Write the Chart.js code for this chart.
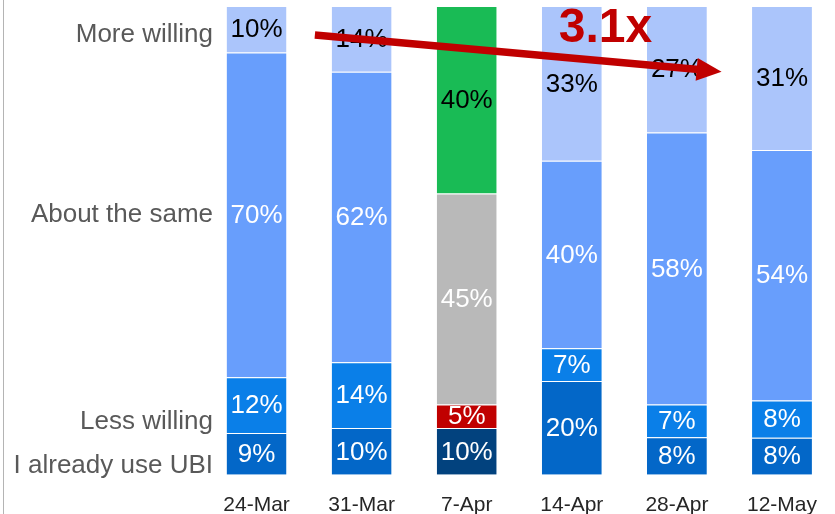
<!DOCTYPE html>
<html>
<head>
<meta charset="utf-8">
<script src="https://cdn.jsdelivr.net/npm/chart.js@4.4.1/dist/chart.umd.min.js"></script>
<style>
  html, body { margin: 0; padding: 0; background: #fff; overflow: hidden; }
  #wrap { position: relative; width: 835px; height: 514px; }
  #wrap:before { content: ''; position: absolute; left: 3px; top: 0; bottom: 0; width: 1px; background: #b4b4b4; }
</style>
</head>
<body>
<div id="wrap"><canvas id="myChart" width="835" height="514"></canvas></div>
<script>
// dados (percentuais mostrados em cada barra)
const dates = ['24-Mar', '31-Mar', '7-Apr', '14-Apr', '28-Apr', '12-May'];
const alreadyUse = [9, 10, 10, 20, 8, 8];
const lessWilling = [12, 14, 5, 7, 7, 8];
const aboutSame = [70, 62, 45, 40, 58, 54];
const moreWilling = [10, 14, 40, 33, 27, 31];
const rowLabels = ['More willing', 'About the same', 'Less willing', 'I already use UBI'];
const multiplier = '3.1x';

window.onload = function() {
    // cada barra é 100% empilhada
    const totals = dates.map((d, i) => alreadyUse[i] + lessWilling[i] + aboutSame[i] + moreWilling[i]);
    const share = arr => arr.map((v, i) => v / totals[i] * 100);

    // cores: a barra de 7-Apr tem cores diferentes
    const col = (normal, special) => dates.map((d, i) => i === 2 ? special : normal);

    const sep = 'rgba(255,255,255,0.35)';
    const baseDs = {
        borderColor: sep,
        borderWidth: { top: 1, left: 0, right: 0, bottom: 0 },
        borderSkipped: false,
        categoryPercentage: 1,
        barPercentage: 0.57
    };

    // rótulos dentro das barras
    const labelsPlugin = {
        id: 'barLabels',
        afterDatasetsDraw(chart) {
            const ctx = chart.ctx;
            ctx.save();
            ctx.font = '26px "Liberation Sans", Arial, sans-serif';
            ctx.textAlign = 'center';
            ctx.textBaseline = 'middle';
            chart.data.datasets.forEach((ds, di) => {
                const meta = chart.getDatasetMeta(di);
                meta.data.forEach((bar, i) => {
                    ctx.fillStyle = ds.labelColor;
                    const cy = (bar.y + bar.base) / 2 + 1;
                    ctx.fillText(ds.raw[i] + '%', bar.x, cy);
                });
            });
            ctx.restore();
        }
    };

    // textos à esquerda + seta vermelha
    const extrasPlugin = {
        id: 'extras',
        afterDraw(chart) {
            const ctx = chart.ctx;
            const x = chart.scales.x, y = chart.scales.y;
            ctx.save();
            ctx.font = '26px "Liberation Sans", Arial, sans-serif';
            ctx.fillStyle = '#595959';
            ctx.textAlign = 'right';
            ctx.textBaseline = 'middle';
            const pos = [93.9, 55.4, 11.2, 2.0];
            rowLabels.forEach((t, k) => ctx.fillText(t, 213, y.getPixelForValue(pos[k])));

            // seta
            const x0 = x.getPixelForValue(0.555), y0 = y.getPixelForValue(93.8);
            const x1 = x.getPixelForValue(4.425), y1 = y.getPixelForValue(86.0);
            const ang = Math.atan2(y1 - y0, x1 - x0);
            const headLen = 25, headW = 11.5;
            const bx = x1 - headLen * Math.cos(ang), by = y1 - headLen * Math.sin(ang);
            ctx.strokeStyle = '#c00000';
            ctx.fillStyle = '#c00000';
            ctx.lineWidth = 7.5;
            ctx.beginPath();
            ctx.moveTo(x0, y0);
            ctx.lineTo(bx + 2 * Math.cos(ang), by + 2 * Math.sin(ang));
            ctx.stroke();
            ctx.beginPath();
            ctx.moveTo(x1, y1);
            ctx.lineTo(bx + headW * Math.sin(ang), by - headW * Math.cos(ang));
            ctx.lineTo(bx - headW * Math.sin(ang), by + headW * Math.cos(ang));
            ctx.closePath();
            ctx.fill();

            ctx.font = 'bold 48px "Liberation Sans", Arial, sans-serif';
            ctx.textAlign = 'center';
            ctx.fillText(multiplier, x.getPixelForValue(3.32), y.getPixelForValue(95.2));
            ctx.restore();
        }
    };

    const ctx = document.getElementById('myChart').getContext('2d');
    const myChart = new Chart(ctx, {
        type: 'bar',
        data: {
            labels: dates,
            datasets: [
                Object.assign({ label: 'I already use UBI', data: share(alreadyUse), raw: alreadyUse,
                    backgroundColor: col('#0367c8', '#02427e'), labelColor: '#ffffff' }, baseDs),
                Object.assign({ label: 'Less willing', data: share(lessWilling), raw: lessWilling,
                    backgroundColor: col('#0a7fe8', '#c00000'), labelColor: '#ffffff' }, baseDs),
                Object.assign({ label: 'About the same', data: share(aboutSame), raw: aboutSame,
                    backgroundColor: col('#689efc', '#b9b9b9'), labelColor: '#ffffff' }, baseDs),
                Object.assign({ label: 'More willing', data: share(moreWilling), raw: moreWilling,
                    backgroundColor: col('#abc5fb', '#19bb55'), labelColor: '#000000' }, baseDs)
            ]
        },
        options: {
            responsive: false,
            animation: false,
            plugins: {
                legend: { display: false },
                tooltip: { enabled: false }
            },
            scales: {
                x: {
                    stacked: true,
                    grid: { display: false, drawTicks: false },
                    border: { display: false },
                    ticks: {
                        color: '#262626',
                        padding: 18,
                        maxRotation: 0,
                        font: { family: '"Liberation Sans", Arial, sans-serif', size: 21 }
                    }
                },
                y: {
                    stacked: true,
                    display: false,
                    min: 0,
                    max: 100
                }
            },
            layout: {
                padding: { left: 204, right: 0, top: 6, bottom: -22 }
            }
        },
        plugins: [labelsPlugin, extrasPlugin]
    });
};
</script>
</body>
</html>
